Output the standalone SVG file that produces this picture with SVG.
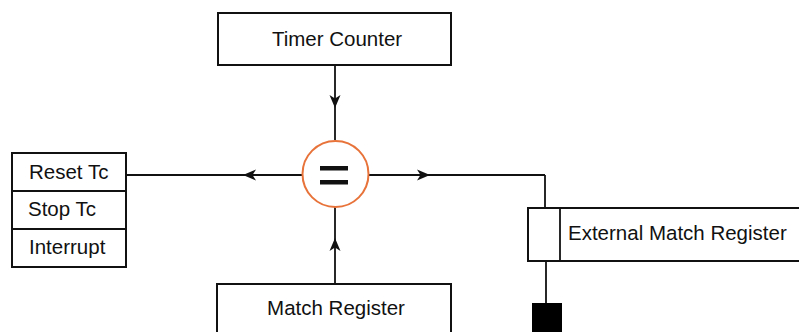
<svg xmlns="http://www.w3.org/2000/svg" width="799" height="332" viewBox="0 0 799 332">
<style>
.box{fill:#fff;stroke:#111;stroke-width:2}
.ln{fill:none;stroke:#111;stroke-width:1.8}
.t{font-family:"Liberation Sans",Arial,sans-serif;font-size:20.5px;fill:#111}
</style>
<defs>
<marker id="ah" viewBox="-14 -7 15 14" refX="0" refY="0" markerWidth="15" markerHeight="14" markerUnits="userSpaceOnUse" orient="auto">
<path d="M0,0 L-13,-5.5 L-9.5,0 L-13,5.5 Z" fill="#111"/>
</marker>
</defs>
<rect width="799" height="332" fill="#fff"/>
<g id="connectors">
<path class="ln" d="M335,65 L335,108 L335,140" marker-mid="url(#ah)"/>
<path class="ln" d="M335,284 L335,238 L335,207" marker-mid="url(#ah)"/>
<path class="ln" d="M302,175 L243,175 L126,175" marker-mid="url(#ah)"/>
<path class="ln" d="M369,175 L430,175 L545,175" marker-mid="url(#ah)"/>
<path class="ln" d="M545,175 L545,208"/>
<path class="ln" d="M546,261 L546,303"/>
</g>
<g id="timer-counter">
<rect class="box" x="218" y="13" width="233" height="52"/>
<text class="t" x="337" y="46" text-anchor="middle">Timer Counter</text>
</g>
<g id="comparator">
<circle cx="335.5" cy="174" r="33" fill="#fff" stroke="#E8733A" stroke-width="2"/>
<rect x="320" y="166" width="28" height="4.5" fill="#111"/>
<rect x="320" y="180" width="28" height="4.5" fill="#111"/>
</g>
<g id="actions">
<rect class="box" x="12" y="153" width="114" height="114"/>
<line class="ln" x1="12" y1="191" x2="126" y2="191"/>
<line class="ln" x1="12" y1="229" x2="126" y2="229"/>
<text class="t" x="29" y="179">Reset Tc</text>
<text class="t" x="28" y="216">Stop Tc</text>
<text class="t" x="29" y="254">Interrupt</text>
</g>
<g id="external-match-register">
<rect class="box" x="528" y="208" width="275" height="53"/>
<line class="ln" x1="560" y1="208" x2="560" y2="261"/>
<text class="t" x="568" y="240">External Match Register</text>
</g>
<g id="match-register">
<rect class="box" x="217" y="284" width="234" height="60"/>
<text class="t" x="336" y="315" text-anchor="middle">Match Register</text>
</g>
<g id="pin">
<rect x="532" y="303" width="30" height="35" fill="#000"/>
</g>
</svg>
